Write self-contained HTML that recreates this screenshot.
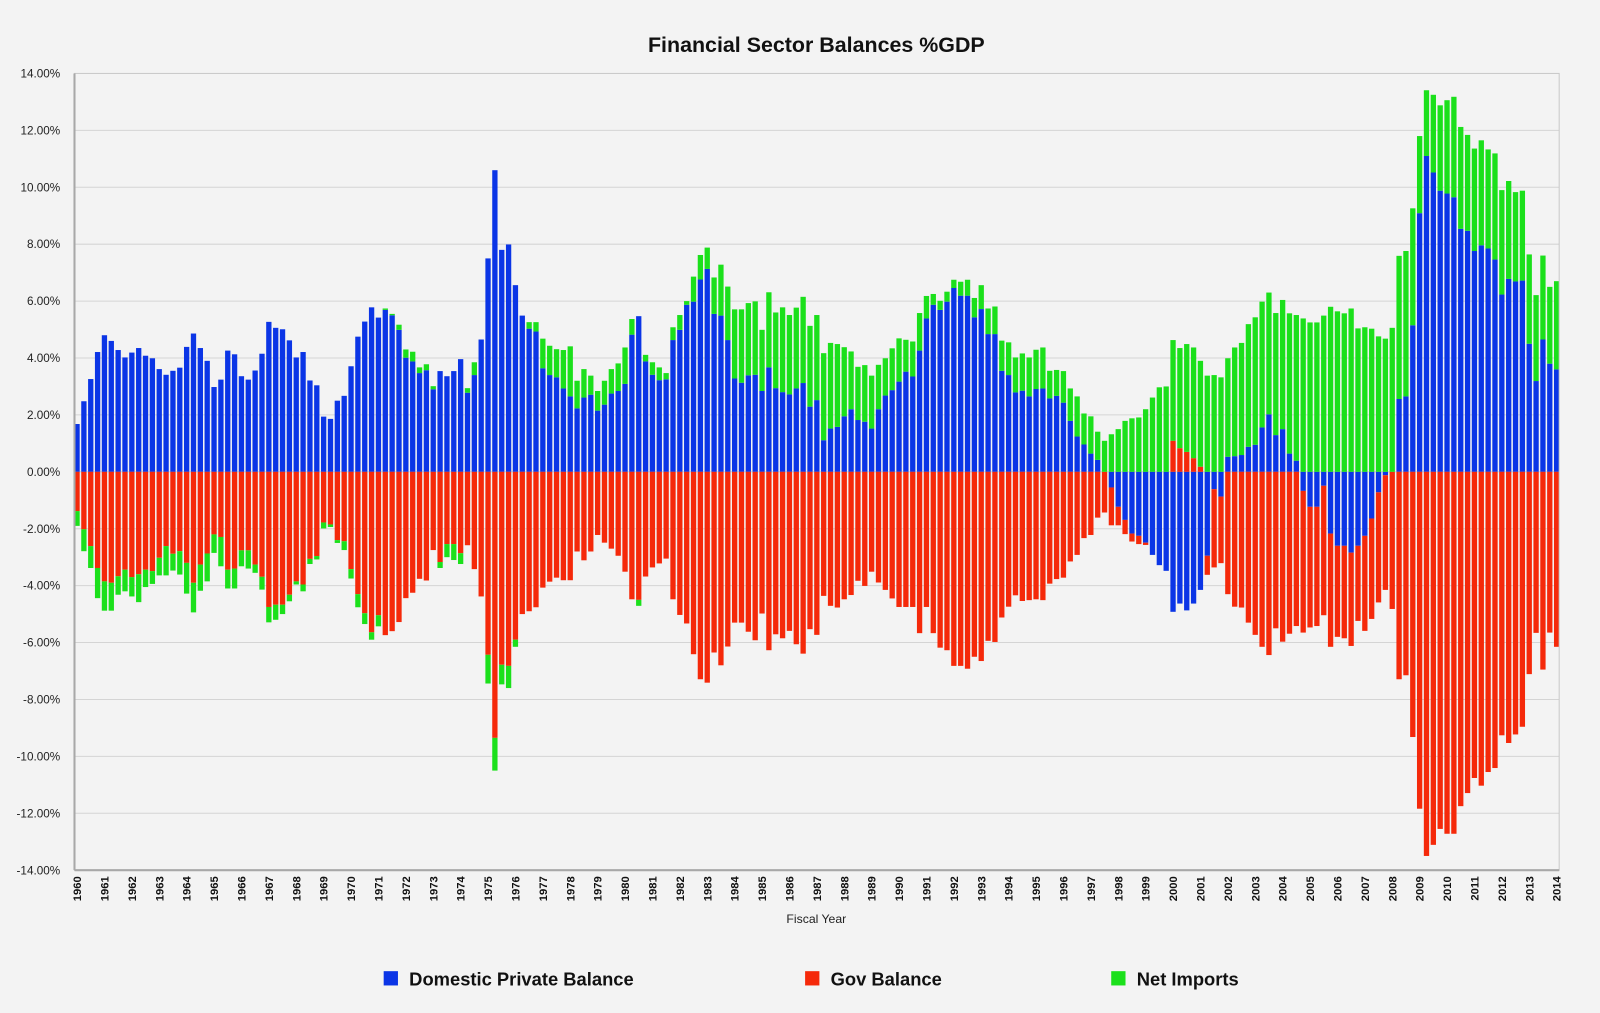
<!DOCTYPE html>
<html><head><meta charset="utf-8"><style>
html,body{margin:0;padding:0;background:#f3f3f3;}
svg{display:block;font-family:"Liberation Sans",Arial,sans-serif;}
</style></head><body>
<svg id="chart" width="1600" height="1013" viewBox="0 0 1568 993" preserveAspectRatio="none" xmlns="http://www.w3.org/2000/svg">
<rect x="0" y="0" width="1568" height="993" fill="#f3f3f3"/>
<text x="800" y="51" text-anchor="middle" font-size="21" font-weight="bold" fill="#111">Financial Sector Balances %GDP</text>
<g id="grid"></g>
<g id="bars"></g>
<g id="axes"></g>
<text x="800" y="905" text-anchor="middle" font-size="12" fill="#222">Fiscal Year</text>
<g>
<g><rect x="376" y="952" width="14" height="14" fill="#0b35e6"/><text x="401" y="966" font-size="18" font-weight="bold" fill="#111">Domestic Private Balance</text></g>
<g><rect x="789" y="952" width="14" height="14" fill="#f5290a"/><text x="814" y="966" font-size="18" font-weight="bold" fill="#111">Gov Balance</text></g>
<g><rect x="1089" y="952" width="14" height="14" fill="#1be01b"/><text x="1114" y="966" font-size="18" font-weight="bold" fill="#111">Net Imports</text></g>
</g>
</svg>
<script>
var startYear = 1960;
var yTicks = [14,12,10,8,6,4,2,0,-2,-4,-6,-8,-10,-12,-14];
var priv = [1.68,2.48,3.26,4.21,4.8,4.6,4.28,4.02,4.19,4.35,4.08,3.99,3.61,3.41,3.55,3.66,4.39,4.86,4.35,3.9,2.98,3.24,4.26,4.13,3.36,3.24,3.56,4.15,5.27,5.06,5.01,4.62,4.02,4.21,3.21,3.04,
1.94,1.86,2.5,2.67,3.71,4.75,5.28,5.78,5.42,5.69,5.5,4.99,4.01,3.88,3.47,3.57,2.9,3.54,3.36,3.54,3.96,2.78,3.4,4.65,7.5,10.6,7.8,7.99,6.56,5.49,5.03,4.93,
3.64,3.4,3.32,2.93,2.65,2.23,2.61,2.71,2.15,2.36,2.75,2.84,3.09,4.82,5.47,3.88,3.41,3.22,3.25,4.63,4.99,5.87,5.98,6.76,7.13,5.55,5.49,4.63,3.28,3.13,3.39,3.41,2.84,3.67,2.94,2.8,2.72,2.93,
3.12,2.29,2.52,1.11,1.52,1.58,1.95,2.2,1.82,1.76,1.52,2.2,2.68,2.87,3.17,3.52,3.35,4.26,5.39,5.87,5.69,5.98,6.46,6.19,6.19,5.43,5.72,4.84,4.84,3.55,3.4,2.79,2.85,2.65,2.91,2.93,
2.58,2.67,2.43,1.79,1.24,0.96,0.64,0.42,0,-0.55,-1.23,-1.69,-2.17,-2.25,-2.49,-2.92,-3.28,-3.48,-4.92,-4.63,-4.87,-4.63,-4.15,-2.95,-0.61,-0.87,0.53,0.55,0.59,0.88,0.95,1.56,2.02,1.29,1.5,0.64,0.39,
-0.67,-1.23,-1.23,-0.49,-2.17,-2.6,-2.6,-2.84,-2.6,-2.25,-1.64,-0.72,-0.12,0,2.56,2.65,5.15,9.09,11.1,10.52,9.88,9.78,9.65,8.54,8.47,7.76,7.96,7.85,7.46,6.23,6.78,6.69,6.72,4.5,3.19,4.65,3.8,3.6];
var gov = [-1.38,-2.02,-2.61,-3.38,-3.85,-3.9,-3.67,-3.44,-3.7,-3.6,-3.44,-3.49,-3.02,-2.61,-2.88,-2.79,-3.2,-3.9,-3.26,-2.87,-2.2,-2.29,-3.44,-3.4,-2.76,-2.76,-3.26,-3.69,-4.75,-4.67,-4.67,-4.32,-3.85,-3.96,-3.06,-2.96,
-1.78,-1.85,-2.4,-2.44,-3.42,-4.3,-4.97,-5.64,-5.04,-5.74,-5.6,-5.28,-4.44,-4.25,-3.76,-3.82,-2.75,-3.17,-2.54,-2.54,-2.86,-2.58,-3.42,-4.38,-6.43,-9.35,-6.78,-6.82,-5.9,-5.0,-4.9,-4.76,
-4.07,-3.86,-3.72,-3.81,-3.81,-2.8,-3.11,-2.8,-2.22,-2.49,-2.7,-2.95,-3.51,-4.48,-4.5,-3.68,-3.36,-3.22,-3.05,-4.48,-5.03,-5.33,-6.41,-7.29,-7.41,-6.35,-6.8,-6.14,-5.3,-5.3,-5.62,-5.92,-4.98,-6.27,-5.71,-5.85,-5.59,-6.06,
-6.39,-5.53,-5.73,-4.36,-4.71,-4.77,-4.48,-4.33,-3.83,-4.01,-3.51,-3.89,-4.15,-4.45,-4.75,-4.75,-4.75,-5.67,-4.75,-5.67,-6.18,-6.27,-6.82,-6.82,-6.92,-6.5,-6.65,-5.94,-5.98,-5.12,-4.74,-4.34,-4.54,-4.51,-4.48,-4.51,
-3.93,-3.77,-3.72,-3.15,-2.92,-2.33,-2.22,-1.61,-1.43,-1.33,-0.65,-0.5,-0.28,-0.29,-0.08,0,0,0,1.09,0.83,0.7,0.48,0.18,-0.67,-2.75,-2.34,-4.3,-4.74,-4.77,-5.3,-5.73,-6.15,-6.44,-5.5,-5.97,-5.69,-5.42,
-4.98,-4.24,-4.19,-4.55,-3.98,-3.2,-3.25,-3.28,-2.64,-3.34,-3.53,-3.87,-4.03,-4.82,-7.29,-7.15,-9.32,-11.84,-13.5,-13.11,-12.55,-12.72,-12.72,-11.75,-11.29,-10.76,-11.03,-10.55,-10.41,-9.26,-9.53,-9.23,-8.96,-7.11,-5.66,-6.95,-5.65,-6.15];
var netImports = [-0.52,-0.77,-0.77,-1.06,-1.03,-0.98,-0.65,-0.76,-0.68,-0.98,-0.61,-0.45,-0.62,-1.03,-0.59,-0.82,-1.08,-1.04,-0.92,-0.98,-0.65,-1.03,-0.66,-0.7,-0.56,-0.64,-0.29,-0.45,-0.54,-0.53,-0.33,-0.23,-0.11,-0.24,-0.18,-0.12,
-0.21,-0.09,-0.1,-0.31,-0.33,-0.46,-0.38,-0.26,-0.39,0.05,0.05,0.18,0.29,0.34,0.2,0.21,0.11,-0.21,-0.46,-0.56,-0.38,0.16,0.45,0,-1.01,-1.15,-0.69,-0.78,-0.25,0,0.23,0.33,
1.04,1.03,0.99,1.35,1.76,0.97,1.0,0.67,0.69,0.84,0.86,0.97,1.28,0.55,-0.21,0.23,0.44,0.45,0.22,0.45,0.52,0.13,0.88,0.86,0.75,1.28,1.79,1.88,2.43,2.58,2.54,2.58,2.15,2.64,2.66,2.98,2.79,2.84,
3.03,2.84,2.99,3.06,3.01,2.91,2.43,2.03,1.87,1.99,1.86,1.56,1.31,1.47,1.52,1.12,1.23,1.32,0.79,0.38,0.32,0.35,0.29,0.49,0.56,0.68,0.84,0.9,0.97,1.06,1.15,1.23,1.31,1.37,1.38,1.44,
0.97,0.91,1.11,1.14,1.41,1.09,1.31,0.99,1.09,1.32,1.5,1.79,1.88,1.91,2.2,2.61,2.97,3.0,3.54,3.52,3.79,3.89,3.72,3.38,3.4,3.32,3.46,3.82,3.94,4.31,4.48,4.42,4.28,4.29,4.54,4.93,5.12,
5.39,5.25,5.25,5.49,5.8,5.64,5.57,5.74,5.04,5.08,5.03,4.76,4.68,5.06,5.03,5.11,4.11,2.71,2.31,2.73,3.0,3.28,3.53,3.58,3.37,3.6,3.69,3.48,3.73,3.67,3.44,3.14,3.16,3.14,3.02,2.95,2.7,3.1];

var NS = "http://www.w3.org/2000/svg";
var plotL = 73, plotR = 1528, plotT = 72, plotB = 853;
var firstX = 75.5, lastX = 1525.5;
var yMin = -14, yMax = 14;
function yScale(v){ return plotB - (v - yMin) / (yMax - yMin) * (plotB - plotT); }
function xScale(i){ return firstX + i * (lastX - firstX) / (priv.length - 1); }
function mk(tag, attrs, parent){ var e = document.createElementNS(NS, tag); for (var k in attrs) e.setAttribute(k, attrs[k]); parent.appendChild(e); return e; }

var grid = document.getElementById('grid');
var axes = document.getElementById('axes');
var barsG = document.getElementById('bars');

yTicks.forEach(function(t){
  var y = yScale(t);
  if (t !== 14 && t !== -14) {
    var l = mk('line', {x1: plotL, x2: plotR, y1: y, y2: y, stroke: '#d4d4d4', 'stroke-width': 1}, grid);
    
    
  }
  var tx = mk('text', {x: 59, y: y + 4, 'text-anchor': 'end', 'font-size': 11.5, fill: '#222'}, axes);
  tx.textContent = t.toFixed(2) + '%';
  
  
});
var frame = mk('rect', {x: plotL, y: plotT, width: plotR - plotL, height: plotB - plotT, fill: 'none', stroke: '#c8c8c8', 'stroke-width': 1}, axes);


var yAxis = mk('line', {x1: plotL, x2: plotL, y1: plotT, y2: plotB, stroke: '#a8a8a8', 'stroke-width': 2}, axes);


var xAxis = mk('line', {x1: plotL, x2: plotR, y1: plotB, y2: plotB, stroke: '#a8a8a8', 'stroke-width': 2}, axes);



var colors = ['#0b35e6', '#f5290a', '#1be01b'];
var names = ['bar-private', 'bar-gov', 'bar-net-imports'];
var bw = 5.2;
for (var i = 0; i < priv.length; i++) {
  var x = xScale(i);
  var vals = [priv[i], gov[i], netImports[i]];
  var pos = 0, neg = 0;
  for (var s = 0; s < 3; s++) {
    var v = vals[s];
    if (v === 0) continue;
    var y0, y1;
    if (v > 0) { y0 = yScale(pos + v); y1 = yScale(pos); pos += v; }
    else { y0 = yScale(neg); y1 = yScale(neg + v); neg += v; }
    var r = mk('rect', {x: x - bw / 2, y: y0, width: bw, height: Math.max(0.5, y1 - y0), fill: colors[s]}, barsG);
    
    
  }
  if (i % 4 === 0) {
    var yr = startYear + i / 4;
    var lab = mk('text', {x: 0, y: 0, 'text-anchor': 'end', 'font-size': 11, 'font-weight': 'bold', fill: '#111', transform: 'translate(' + (x + 4) + ',' + 859 + ') rotate(-90)'}, axes);
    lab.textContent = yr;
    
    
  }
}
</script>
</body></html>
